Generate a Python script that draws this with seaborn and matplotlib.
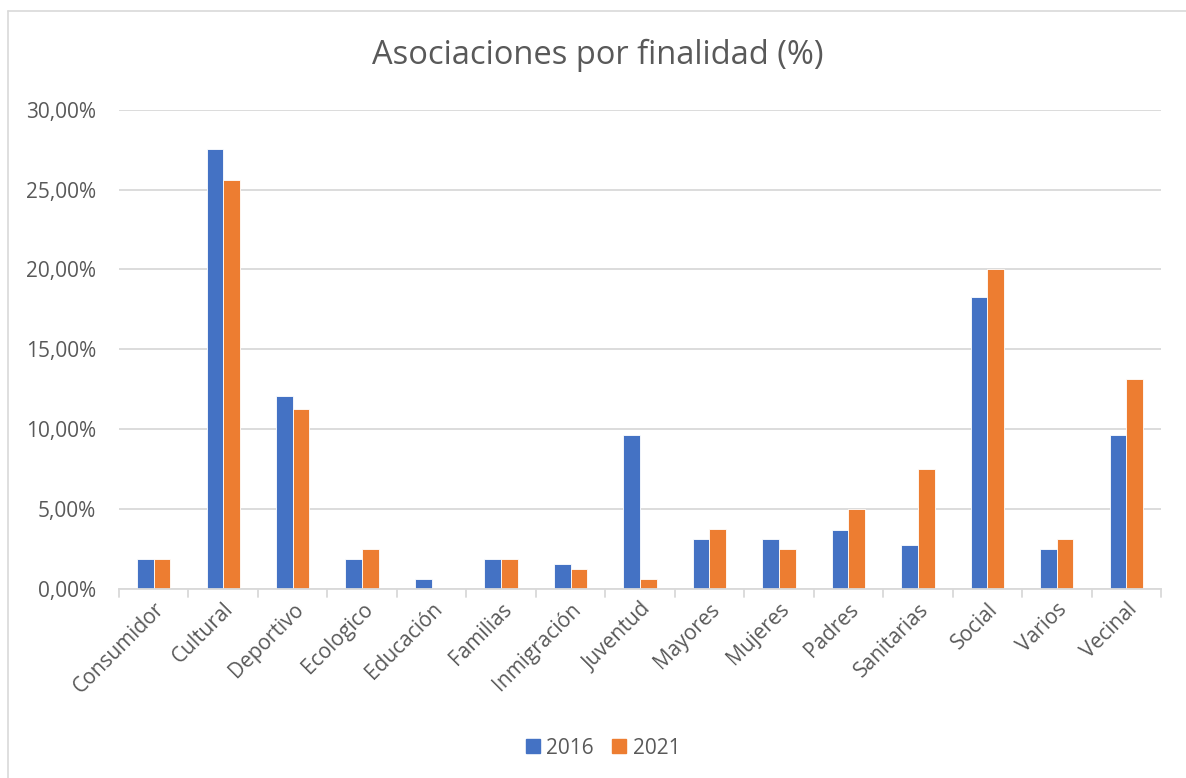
import matplotlib
matplotlib.use("Agg")
import matplotlib.pyplot as plt
import seaborn as sns
import pandas as pd
import numpy as np
from matplotlib.ticker import FuncFormatter, FixedLocator
from matplotlib.lines import Line2D

categories = ["Consumidor", "Cultural", "Deportivo", "Ecologico", "Educación",
              "Familias", "Inmigración", "Juventud", "Mayores", "Mujeres",
              "Padres", "Sanitarias", "Social", "Varios", "Vecinal"]
values_2016 = [1.87, 27.55, 12.1, 1.87, 0.62, 1.87, 1.55, 9.62, 3.1, 3.1,
               3.7, 2.78, 18.3, 2.48, 9.62]
values_2021 = [1.875, 25.625, 11.25, 2.5, 0.0, 1.875, 1.25, 0.625, 3.75, 2.5,
               5.0, 7.5, 20.0, 3.125, 13.125]
years = ["2016", "2021"]

df = pd.DataFrame({
    "Finalidad": categories * 2,
    "Año": [years[0]] * len(categories) + [years[1]] * len(categories),
    "Valor": [v / 100 for v in values_2016] + [v / 100 for v in values_2021],
})

sns.set_theme(style="white")
plt.rcParams['font.family'] = ['Open Sans', 'DejaVu Sans']
TXT = "#595959"
GRID = "#D9D9D9"

W, H = 1186, 778
fig = plt.figure(figsize=(W / 100, H / 100), dpi=100)
ax = fig.add_axes([119 / W, 1 - 589 / H, (1161 - 119) / W, (589 - 109.7) / H])

palette = {"2016": "#4472C4", "2021": "#ED7D31"}
sns.barplot(data=df, x="Finalidad", y="Valor", hue="Año", palette=palette,
            width=0.48, ax=ax, edgecolor="white", linewidth=0.6, saturation=1,
            legend=False)

ax.set_ylim(0, 0.30)
ax.set_xlim(-0.5, len(categories) - 0.5)
ax.yaxis.set_major_locator(FixedLocator(np.arange(0, 0.301, 0.05)))
ax.yaxis.set_major_formatter(FuncFormatter(lambda v, p: f"{v*100:.2f}%".replace(".", ",")))
ax.grid(axis="y", color=GRID, linewidth=1.3)
ax.set_axisbelow(True)
for s in ["top", "right", "left"]:
    ax.spines[s].set_visible(False)
ax.spines["bottom"].set_color(GRID)
ax.spines["bottom"].set_linewidth(1.3)
ax.set_xlabel("")
ax.set_ylabel("")
ax.tick_params(axis="y", length=0, pad=16.5, labelsize=15, labelcolor=TXT)
ax.tick_params(axis="x", length=0, pad=7, labelsize=15, labelcolor=TXT)
ax.set_xticks(range(len(categories)))
ax.set_xticklabels(categories, rotation=45, ha="right", rotation_mode="anchor")
# category separator ticks
for b in np.arange(-0.5, len(categories), 1.0):
    ax.add_line(Line2D([b, b], [0, -0.005], color=GRID, linewidth=1.3,
                       clip_on=False, transform=ax.transData))

fig.text(598 / W, 1 - 55 / H, "Asociaciones por finalidad (%)", ha="center", va="center",
         fontsize=23.5, color=TXT)

handles = [plt.Rectangle((0, 0), 1, 1, color=palette[y]) for y in years]
fig.legend(handles, years, loc="center", bbox_to_anchor=(603 / W, 1 - 748 / H), ncol=2,
           frameon=False, fontsize=15, labelcolor=TXT, handlelength=0.67,
           handleheight=0.67, handletextpad=0.3, columnspacing=0.9)

# chart border (left and top)
fig.add_artist(Line2D([8 / W, 8 / W], [0, 1 - 11 / H], color=GRID, linewidth=1.2,
                      transform=fig.transFigure))
fig.add_artist(Line2D([8 / W, 1], [1 - 11 / H, 1 - 11 / H], color=GRID, linewidth=1.2,
                      transform=fig.transFigure))

fig.savefig("out.png", dpi=100)
